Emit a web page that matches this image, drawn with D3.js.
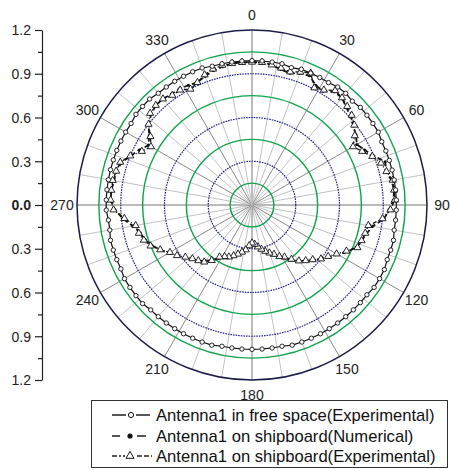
<!DOCTYPE html>
<html>
<head>
<meta charset="utf-8">
<script src="https://cdn.jsdelivr.net/npm/d3@7"></script>
<style>
  body { margin: 0; background: #fff; }
  text { font-family: "Liberation Sans", Arial, sans-serif; }
</style>
</head>
<body>
<svg class="svg-polar" width="450" height="470"></svg>
<script>
// angles in degrees, 0 at top, clockwise
const angles = [0, 4, 8, 12, 16, 20, 24, 28, 32, 36, 40, 44, 48, 52, 56, 60, 64, 68, 72, 76,
  80, 84, 88, 92, 96, 100, 104, 108, 112, 116, 120, 124, 128, 132, 136, 140, 144, 148, 152, 156,
  160, 164, 168, 172, 176, 180, 184, 188, 192, 196, 200, 204, 208, 212, 216, 220, 224, 228, 232, 236,
  240, 244, 248, 252, 256, 260, 264, 268, 272, 276, 280, 284, 288, 292, 296, 300, 304, 308, 312, 316,
  320, 324, 328, 332, 336, 340, 344, 348, 352, 356]

const freeSpaceExp = [0.99, 0.99, 0.99, 0.99, 0.98, 0.99, 0.99, 0.99, 0.99, 1.00, 1.00, 0.99, 1.00, 1.00, 1.00, 1.00, 0.99, 0.99, 0.99, 0.99,
  0.99, 0.99, 0.99, 0.99, 0.99, 0.99, 1.00, 1.00, 1.00, 1.01, 1.01, 1.01, 1.00, 1.00, 1.00, 1.00, 1.00, 1.00, 1.00, 1.00,
  1.00, 1.00, 0.99, 0.99, 0.99, 0.99, 0.99, 0.99, 0.99, 1.00, 1.00, 1.00, 1.00, 1.00, 1.00, 1.00, 1.00, 1.01, 1.01, 1.01,
  1.01, 1.00, 1.00, 1.00, 1.00, 0.99, 0.99, 1.00, 1.00, 1.00, 1.00, 1.00, 1.00, 1.00, 1.00, 1.00, 1.00, 1.01, 1.01, 1.01,
  1.00, 1.00, 1.00, 1.00, 1.00, 1.00, 0.99, 0.99, 0.99, 0.99]

const shipNumerical = [0.98, 0.98, 0.97, 0.95, 0.94, 0.96, 0.97, 0.93, 0.92, 0.96, 0.96, 0.93, 0.91, 0.88, 0.86, 0.83, 0.86, 0.90, 0.96, 0.95,
  0.97, 0.98, 0.97, 0.94, 0.91, 0.84, 0.81, 0.79, 0.77, 0.73, 0.68, 0.64, 0.60, 0.57, 0.53, 0.50, 0.47, 0.43, 0.40, 0.37,
  0.35, 0.33, 0.31, 0.29, 0.28, 0.27, 0.28, 0.30, 0.33, 0.35, 0.37, 0.39, 0.41, 0.43, 0.47, 0.50, 0.53, 0.55, 0.58, 0.62,
  0.66, 0.70, 0.74, 0.77, 0.79, 0.83, 0.89, 0.94, 0.97, 0.97, 0.96, 0.96, 0.94, 0.90, 0.86, 0.82, 0.85, 0.90, 0.93, 0.95,
  0.95, 0.94, 0.94, 0.93, 0.92, 0.94, 0.96, 0.97, 0.98, 0.98]

const shipExp = [0.98, 0.98, 0.97, 0.96, 0.95, 0.97, 0.99, 0.91, 0.93, 0.97, 0.96, 0.94, 0.92, 0.89, 0.85, 0.80, 0.84, 0.89, 0.93, 0.95,
  0.98, 0.98, 0.98, 0.95, 0.90, 0.81, 0.80, 0.79, 0.78, 0.72, 0.67, 0.63, 0.60, 0.56, 0.53, 0.50, 0.46, 0.42, 0.40, 0.37,
  0.35, 0.33, 0.31, 0.29, 0.27, 0.26, 0.28, 0.31, 0.33, 0.35, 0.37, 0.39, 0.40, 0.42, 0.47, 0.51, 0.53, 0.55, 0.58, 0.62,
  0.65, 0.70, 0.75, 0.78, 0.80, 0.81, 0.88, 0.95, 0.97, 0.97, 0.97, 0.96, 0.95, 0.90, 0.84, 0.80, 0.84, 0.90, 0.94, 0.95,
  0.95, 0.93, 0.93, 0.90, 0.92, 0.95, 0.97, 0.98, 0.98, 0.98]

const ringsGreen = [0.15, 0.45, 0.75, 1.05]
const ringsBlue = [0.3, 0.6, 0.9]
const angleLabels = [0, 30, 60, 90, 120, 150, 180, 210, 240, 270, 300, 330]
const spokeAngles = [0, 10, 20, 30, 40, 50, 60, 70, 80, 90, 100, 110, 120, 130, 140, 150, 160, 170,
  180, 190, 200, 210, 220, 230, 240, 250, 260, 270, 280, 290, 300, 310, 320, 330, 340, 350]
const legendLabels = ["Antenna1 in free space(Experimental)", "Antenna1 on shipboard(Numerical)", "Antenna1 on shipboard(Experimental)"]

var cx = 252, cy = 205, R = 175
var svg = d3.select('.svg-polar')
var rad = d => d * Math.PI / 180

var r_scale = d3.scaleLinear().domain([0, 1.2]).range([0, R])

var g = svg.append('g').attr('transform', 'translate(' + cx + ',' + cy + ')')

// spokes
g.selectAll('.spoke').data(spokeAngles).enter().append('line')
  .attr('x1', 0).attr('y1', 0)
  .attr('x2', d => R * Math.sin(rad(d)))
  .attr('y2', d => -R * Math.cos(rad(d)))
  .attr('stroke', d => d % 90 === 0 ? '#777' : (d % 30 === 0 ? '#8a8a8a' : '#c2c2c2'))
  .attr('stroke-width', 1)

// rings
g.selectAll('.ring-g').data(ringsGreen).enter().append('circle')
  .attr('r', d => r_scale(d)).attr('fill', 'none')
  .attr('stroke', '#0ea34c').attr('stroke-width', 1.4)
g.selectAll('.ring-b').data(ringsBlue).enter().append('circle')
  .attr('r', d => r_scale(d)).attr('fill', 'none')
  .attr('stroke', '#23238f').attr('stroke-width', 1.2).attr('stroke-dasharray', '1.6,1')
g.append('circle').attr('r', r_scale(1.2)).attr('fill', 'none')
  .attr('stroke', '#1c1c4a').attr('stroke-width', 1.5)

// angle labels
g.selectAll('.alabel').data(angleLabels).enter().append('text')
  .attr('x', d => 190 * Math.sin(rad(d)))
  .attr('y', d => -190 * Math.cos(rad(d)))
  .attr('dy', '0.35em')
  .attr('text-anchor', 'middle')
  .style('font-size', '14px')
  .attr('fill', '#222')
  .text(d => d)

// series
var toPts = vals => angles.map((a, i) => ({ a: a, v: vals[i] }))
var line = d3.lineRadial()
  .angle(d => rad(d.a))
  .radius(d => r_scale(d.v))
  .curve(d3.curveLinearClosed)

g.append('path').attr('d', line(toPts(shipExp)))
  .attr('fill', 'none').attr('stroke', '#111').attr('stroke-width', 1.3)
  .attr('stroke-dasharray', '4,2,1,2')
g.append('path').attr('d', line(toPts(shipNumerical)))
  .attr('fill', 'none').attr('stroke', '#111').attr('stroke-width', 1.8)
  .attr('stroke-dasharray', '5,3')
g.append('path').attr('d', line(toPts(freeSpaceExp)))
  .attr('fill', 'none').attr('stroke', '#111').attr('stroke-width', 1.2)

var px = d => r_scale(d.v) * Math.sin(rad(d.a))
var py = d => -r_scale(d.v) * Math.cos(rad(d.a))

g.selectAll('.dot-n').data(toPts(shipNumerical)).enter().append('circle')
  .attr('cx', px).attr('cy', py).attr('r', 1.6).attr('fill', '#111')
var tri = d3.symbol().type(d3.symbolTriangle).size(22)
g.selectAll('.tri').data(toPts(shipExp)).enter().append('path')
  .attr('d', tri)
  .attr('transform', d => 'translate(' + px(d) + ',' + py(d) + ')')
  .attr('fill', '#fff').attr('stroke', '#111').attr('stroke-width', 0.9)
g.selectAll('.circ').data(toPts(freeSpaceExp)).enter().append('circle')
  .attr('cx', px).attr('cy', py).attr('r', 2.2)
  .attr('fill', '#fff').attr('stroke', '#111').attr('stroke-width', 0.9)

// left axis
var y_scale = d3.scaleLinear().domain([-1.2, 1.2]).range([cy + R, cy - R])
var y_axis = d3.axisLeft(y_scale)
  .tickValues([-1.2, -1.05, -0.9, -0.75, -0.6, -0.45, -0.3, -0.15, 0, 0.15, 0.3, 0.45, 0.6, 0.75, 0.9, 1.05, 1.2])
  .tickSize(0)
  .tickFormat('')
var ax = svg.append('g').attr('transform', 'translate(42,0)').call(y_axis)
ax.select('.domain').attr('stroke', '#222').attr('stroke-width', 1.2)
ax.selectAll('.tick').each(function (d) {
  var major = Math.abs(Math.round(d * 100)) % 30 === 0
  var t = d3.select(this)
  t.select('line').attr('x2', major ? -7 : -4).attr('stroke', '#222').attr('stroke-width', 1.2)
  if (major) {
    t.append('text').attr('x', -11).attr('dy', '0.35em')
      .attr('text-anchor', 'end').attr('fill', '#222')
      .style('font-size', '14px')
      .style('font-weight', d === 0 ? 'bold' : 'normal')
      .text(Math.abs(d).toFixed(1))
  }
})

// legend
var lg = svg.append('g')
lg.append('rect').attr('x', 91.5).attr('y', 400.5).attr('width', 356).attr('height', 67)
  .attr('fill', '#fff').attr('stroke', '#333').attr('stroke-width', 1)
var rowsY = [415, 436, 456]
// legend sample segments [x1, x2] per row
var segs = [
  [[112, 126], [136, 150]],
  [[112, 120], [137, 146]],
  [[112, 117], [119, 121], [123, 125], [137, 142], [144, 149], [151, 152]]
]
segs.forEach((row, i) => {
  lg.selectAll('.seg' + i).data(row).enter().append('line')
    .attr('x1', d => d[0]).attr('x2', d => d[1])
    .attr('y1', rowsY[i]).attr('y2', rowsY[i])
    .attr('stroke', '#111').attr('stroke-width', 1.4)
})
lg.append('circle').attr('cx', 131).attr('cy', rowsY[0]).attr('r', 2.6)
  .attr('fill', '#fff').attr('stroke', '#111').attr('stroke-width', 1)
lg.append('circle').attr('cx', 130).attr('cy', rowsY[1]).attr('r', 2.6).attr('fill', '#111')
lg.append('path').attr('d', d3.symbol().type(d3.symbolTriangle).size(28))
  .attr('transform', 'translate(130,' + rowsY[2] + ')')
  .attr('fill', '#fff').attr('stroke', '#111').attr('stroke-width', 1)
lg.selectAll('.ltext').data(legendLabels).enter().append('text')
  .attr('x', 156).attr('y', (d, i) => rowsY[i]).attr('dy', '0.36em')
  .style('font-size', '16.6px').attr('fill', '#111')
  .text(d => d)
</script>
</body>
</html>
